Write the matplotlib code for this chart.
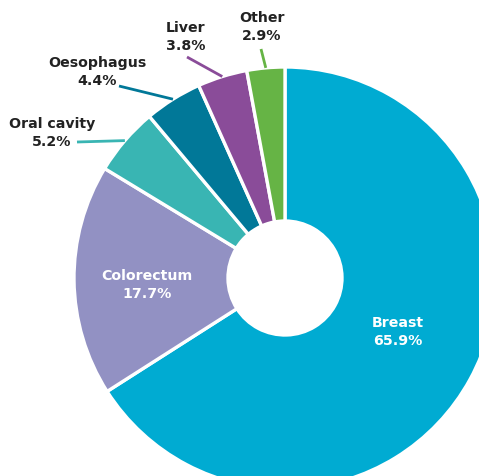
import numpy as np
import matplotlib
matplotlib.use('Agg')
import matplotlib.pyplot as plt

# dados do gráfico
labels = ['Breast', 'Colorectum', 'Oral cavity', 'Oesophagus', 'Liver', 'Other']
values = [65.9, 17.7, 5.2, 4.4, 3.8, 2.9]
colors = ['#00abd2', '#9291c3', '#39b5b3', '#017898', '#8a4c99', '#66b445']

# geometria em pixels (centro, raio)
W, H = 479, 477
cx, cy, R, r_in = 285, 279, 211, 57


def px(x, y):
    # pixel -> dados
    return (x - cx) / R, (cy - y) / R


fig = plt.figure(figsize=(W / 100, H / 100), dpi=100)
ax = fig.add_axes([0, 0, 1, 1])
ax.axis('off')

wedges, _ = ax.pie(values, colors=colors, startangle=90, counterclock=False,
                   radius=1, wedgeprops=dict(width=1 - r_in / R, edgecolor='white', linewidth=2.4))
ax.set_xlim(-cx / R, (W - cx) / R)
ax.set_ylim(-(H - cy) / R, cy / R)

font = dict(fontsize=10.2, fontweight='bold', ha='center', va='center', linespacing=1.4)

# rótulos internos
inside = {'Breast': (398, 332), 'Colorectum': (147, 285)}
# rótulos externos: posição do texto e início da linha
outside = {
    'Oral cavity': ((52, 133), (77, 143)),
    'Oesophagus': ((97, 72), (119, 87)),
    'Liver': ((186, 37), (187, 58)),
    'Other': ((262, 27), (261, 50)),
}

for w, lab, val, col in zip(wedges, labels, values, colors):
    txt = f'{lab}\n{val}%'
    if lab in inside:
        x, y = px(*inside[lab])
        ax.text(x, y, txt, color='white', **font)
    else:
        (tx, ty), (lx, ly) = outside[lab]
        ang = np.deg2rad((w.theta1 + w.theta2) / 2)
        x0, y0 = px(lx, ly)
        ax.plot([x0, np.cos(ang)], [y0, np.sin(ang)], color=col, lw=2, solid_capstyle='butt')
        x, y = px(tx, ty)
        ax.text(x, y, txt, color='#222222', **font)

fig.savefig('out.png', dpi=100)
